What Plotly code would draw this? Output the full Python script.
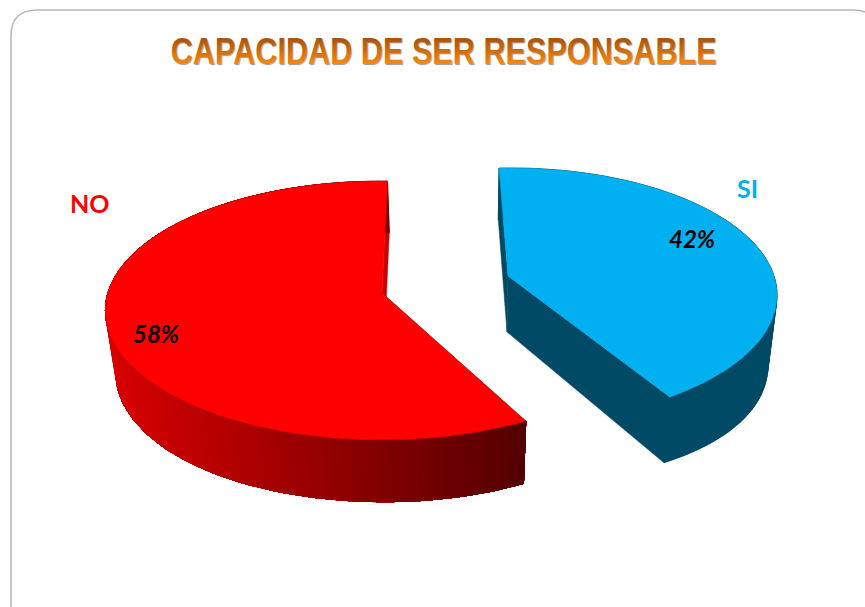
import math
import plotly.graph_objects as go

categories = ["NO", "SI"]
percent_values = [58, 42]
percent_labels = ["58%", "42%"]
title_text = "CAPACIDAD DE SER RESPONSABLE"

W, H = 865, 607
DEPTH = 56
SX, SY = 0.97, 1.04

# view geometry of each exploded slice: start angle and direction, projected disc
slice_views = {
    "NO": dict(start=88.7, direction=1, cx=382, ax=382, cy=293, A=274, a=127, k=0.135, shift=2, bump=5),
    "SI": dict(start=93.0, direction=-1, cx=511, ax=508, cy=276, A=263, a=124.2, k=0.15, shift=-1, bump=13),
}
top_colors = {"NO": "#FF0000", "SI": "#00B0F0"}


def project(th, v):
    c, s = math.cos(th), math.sin(th)
    w = 1 + v["k"] * s
    return v["cx"] + v["A"] * c / w, v["cy"] - v["a"] * s / w


def lower(p, v):
    c = (p[0] - v["ax"]) / v["A"]
    return (
        v["ax"] + v["shift"] + (p[0] - v["ax"]) * SX,
        v["cy"] + DEPTH + (p[1] - v["cy"]) * SY + v["bump"] * c * c,
    )


def lerp_hex(a, b, t):
    t = max(0, min(1, t))
    ca = [int(a[i:i + 2], 16) for i in (1, 3, 5)]
    cb = [int(b[i:i + 2], 16) for i in (1, 3, 5)]
    return "#%02x%02x%02x" % tuple(round(x + (y - x) * t) for x, y in zip(ca, cb))


def poly(fig, pts, color):
    xs = [p[0] for p in pts] + [pts[0][0]]
    ys = [p[1] for p in pts] + [pts[0][1]]
    fig.add_trace(go.Scatter(x=xs, y=ys, mode="lines", fill="toself", fillcolor=color,
                             line=dict(color=color, width=0.5), hoverinfo="skip",
                             showlegend=False))


def red_side(x):
    return lerp_hex("#D80000", "#520000", (x - 105) / 420)


fig = go.Figure()
total = sum(percent_values)
N = 120
for name, val in zip(categories, percent_values):
    v = slice_views[name]
    sweep = math.radians(360 * val / total) * v["direction"]
    st = math.radians(v["start"])
    rim = [project(st + sweep * i / N, v) for i in range(N + 1)]
    apex = (v["ax"], v["cy"])
    low_rim = [lower(p, v) for p in rim]
    low_apex = lower(apex, v)
    # flat wall of the first cut
    wall_start = "#C80000" if name == "NO" else "#004A66"
    poly(fig, [rim[0], apex, low_apex, low_rim[0]], wall_start)
    # swept side quads give the straight silhouette where the two rims cross
    for i in range(N):
        col = red_side(rim[i][0]) if name == "NO" else "#004A66"
        poly(fig, [rim[i], rim[i + 1], low_rim[i + 1], low_rim[i]], col)
    # outer curved side, painted in overlapping bands so that no seams show
    if name == "NO":
        poly(fig, [rim[-1], apex, low_apex, low_rim[-1]], "#520000")
        for i in range(N):
            poly(fig, rim[i:] + low_rim[i:][::-1], red_side(rim[i][0]))
    else:
        # side and second cut share one colour, so they are one outline
        poly(fig, rim + [apex, low_apex] + low_rim[::-1], "#004A66")
    # top surface
    poly(fig, [apex] + rim, top_colors[name])

frame = "M 11 625 L 11 36 Q 11 10 37 10 L 853 10 Q 879 10 879 36 L 879 625"
fig.add_shape(type="path", path=frame, xref="x", yref="y",
              line=dict(color="#B8B8B8", width=1.6), layer="below")

fig.add_annotation(x=443, y=51, text=title_text, showarrow=False,
                   font=dict(family="Liberation Sans", size=36, weight=700,
                             color="#DB7010", shadow="1px 1px 1px #9a9a9a"))
fig.add_annotation(x=89, y=203, text="<b>%s</b>" % categories[0], showarrow=False,
                   font=dict(family="Lato", size=25, color="#FF0000"))
fig.add_annotation(x=747, y=188, text="<b>%s</b>" % categories[1], showarrow=False,
                   font=dict(family="Lato", size=25, color="#00B0F0"))
fig.add_annotation(x=156, y=333, text="<b><i>%s</i></b>" % percent_labels[0], showarrow=False,
                   font=dict(family="Lato", size=24, color="#000000"))
fig.add_annotation(x=692, y=238, text="<b><i>%s</i></b>" % percent_labels[1], showarrow=False,
                   font=dict(family="Lato", size=24, color="#000000"))

fig.update_layout(
    width=W, height=H, margin=dict(l=0, r=0, t=0, b=0),
    paper_bgcolor="#FFFFFF", plot_bgcolor="#FFFFFF", showlegend=False,
    xaxis=dict(range=[0, W], visible=False, fixedrange=True),
    yaxis=dict(range=[H, 0], visible=False, fixedrange=True),
)

post = """
document.body.style.margin = '0';
document.documentElement.style.overflow = 'hidden';
var svg = document.querySelector('.main-svg');
var ns = 'http://www.w3.org/2000/svg';
var defs = svg.querySelector('defs');
var g = document.createElementNS(ns, 'linearGradient');
g.setAttribute('id', 'titlegrad');
g.setAttribute('x1', '0'); g.setAttribute('y1', '0');
g.setAttribute('x2', '0'); g.setAttribute('y2', '1');
[['0.2', '#AE5406'], ['0.8', '#F8880F']].forEach(function (s) {
  var st = document.createElementNS(ns, 'stop');
  st.setAttribute('offset', s[0]); st.setAttribute('stop-color', s[1]);
  g.appendChild(st);
});
defs.appendChild(g);
document.querySelectorAll('.annotation-text').forEach(function (t) {
  if (t.textContent.indexOf('CAPACIDAD') === 0) {
    t.setAttribute('textLength', '546');
    t.setAttribute('lengthAdjust', 'spacingAndGlyphs');
    t.style.fill = 'url(#titlegrad)';
  }
});
"""
fig.write_html("out.html", config={"displayModeBar": False}, post_script=post)
